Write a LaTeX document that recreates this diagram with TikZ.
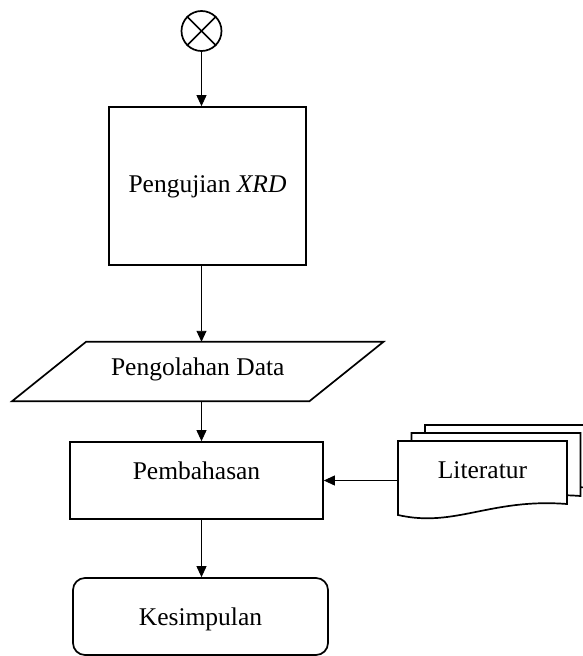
\documentclass[tikz,border=0pt]{standalone}
\usepackage{fontspec}
\setmainfont{Liberation Serif}
\usetikzlibrary{arrows.meta}
\begin{document}
\begin{tikzpicture}[x=1pt,y=-1pt,
  box/.style={draw, line width=1.7pt, inner sep=0pt},
  conn/.style={line width=0.9pt, -{Triangle[length=11pt,width=10pt]}},
  lbl/.style={font=\fontsize{25.5}{30}\selectfont, text height=18pt}]
\useasboundingbox (0,0) rectangle (582,656);
% connector symbol
\node[draw, circle, line width=1.7pt, minimum size=40pt, inner sep=0pt] (c) at (201.5,31) {};
\draw[line width=1.7pt] (c.north west) -- (c.south east);
\draw[line width=1.7pt] (c.north east) -- (c.south west);
% process box
\node[box, lbl, text depth=6pt, minimum width=197pt, minimum height=158pt] (xrd) at (207.5,186) {Pengujian \textit{XRD}};
% data (parallelogram)
\node[lbl, text depth=10pt, inner sep=0pt, minimum width=297pt, minimum height=59pt] (pd) at (197.75,371.5) {Pengolahan Data};
\draw[line width=1.7pt] ([xshift=-37pt]pd.south west) -- ([xshift=-37pt]pd.south east)
  -- ([xshift=37pt]pd.north east) -- ([xshift=37pt]pd.north west) -- cycle;
% discussion
\node[box, lbl, text depth=21pt, minimum width=253pt, minimum height=77pt] (pb) at (196.5,480.5) {Pembahasan};
% conclusion
\node[box, lbl, text depth=1pt, rounded corners=12pt, minimum width=255pt, minimum height=77pt] (kes) at (200.5,616.5) {Kesimpulan};
% literature (multi-document)
\foreach \dx/\dy in {27/-16, 13.5/-8, 0/0}{
  \draw[line width=1.7pt, fill=white, shift={(\dx,\dy)}] (398,441) -- (567,441) -- (567,504)
    .. controls (490,498) and (455,528) .. (398,515) -- cycle;
}
\node[lbl, text depth=22pt, inner sep=0pt, minimum width=169pt, minimum height=78pt] (lit) at (482.5,480) {Literatur};
% connectors
\draw[conn] (c.south) -- (c.south |- xrd.north);
\draw[conn] (xrd.south -| c.center) -- (pd.north -| c.center);
\draw[conn] (pd.south -| c.center) -- (pb.north -| c.center);
\draw[conn] (pb.south -| c.center) -- (kes.north -| c.center);
\draw[conn] (lit.west |- pb.east) -- (pb.east);
\end{tikzpicture}
\end{document}
